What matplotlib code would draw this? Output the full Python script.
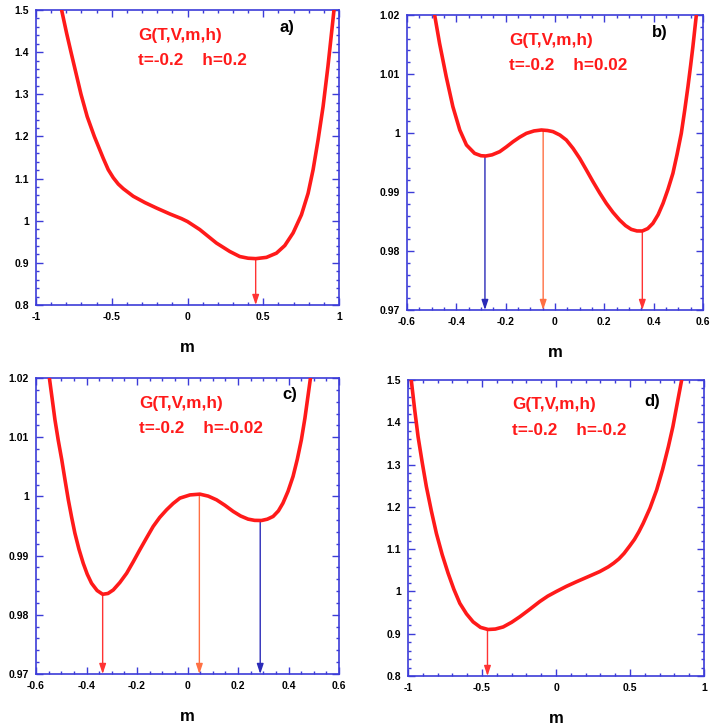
import matplotlib
matplotlib.use("Agg")
import matplotlib.pyplot as plt
from matplotlib.ticker import MultipleLocator

plt.rcParams['font.family'] = ['Liberation Sans', 'DejaVu Sans']

# ---------------- data ----------------
m_a = [-0.831, -0.798, -0.769, -0.736, -0.703, -0.662, -0.615, -0.556, -0.523, -0.490, -0.457, -0.424,
       -0.391, -0.358, -0.281, -0.204, -0.116, -0.040, 0.0, 0.081, 0.191, 0.279, 0.345, 0.400, 0.451,
       0.521, 0.587, 0.642, 0.697, 0.752, 0.796, 0.829, 0.862, 0.895, 0.927, 0.967]
g_a = [1.5, 1.445, 1.4, 1.350, 1.3, 1.247, 1.2, 1.148, 1.121, 1.102, 1.087, 1.076,
       1.067, 1.058, 1.043, 1.030, 1.016, 1.005, 0.998, 0.979, 0.947, 0.927, 0.915, 0.911, 0.910,
       0.913, 0.923, 0.941, 0.971, 1.014, 1.065, 1.121, 1.192, 1.271, 1.366, 1.5]

m_b = [-0.488, -0.468, -0.441, -0.414, -0.386, -0.359, -0.326, -0.300, -0.281, -0.255, -0.224, -0.197, -0.170,
       -0.143, -0.116, -0.085, -0.055, -0.030, -0.008, 0.020, 0.046, 0.073, 0.100, 0.127, 0.154, 0.181, 0.208,
       0.235, 0.262, 0.286, 0.309, 0.332, 0.354, 0.376, 0.397, 0.418, 0.438, 0.458, 0.478, 0.495, 0.512,
       0.526, 0.539, 0.550, 0.559, 0.573]
g_b = [1.02, 1.0152, 1.00955, 1.00446, 1.0005, 0.99797, 0.99655, 0.99615, 0.99610, 0.99630, 0.99684, 0.99765,
       0.99853, 0.99930, 0.99994, 1.00035, 1.00051, 1.00042, 1.00023, 0.99965, 0.99881, 0.99740, 0.99571,
       0.99375, 0.99175, 0.98985, 0.98808, 0.98655, 0.98525, 0.98430, 0.98367, 0.98340, 0.98339, 0.98380,
       0.98469, 0.98615, 0.98808, 0.99045, 0.99316, 0.99640, 0.99994, 1.0039, 1.00785, 1.0115, 1.01463, 1.02]

m_c = [-0.547, -0.536, -0.525, -0.512, -0.498, -0.485, -0.472, -0.459, -0.446, -0.430, -0.413, -0.397,
       -0.380, -0.358, -0.336, -0.315, -0.294, -0.268, -0.241, -0.215, -0.189, -0.162, -0.136, -0.110, -0.083,
       -0.057, -0.030, 0.010, 0.049, 0.082, 0.115, 0.148, 0.181, 0.210, 0.240, 0.266, 0.293, 0.316, 0.339,
       0.360, 0.378, 0.398, 0.418, 0.435, 0.451, 0.465, 0.477, 0.487]
g_c = [1.02, 1.0165, 1.01295, 1.0095, 1.00619, 1.00275, 0.99942, 0.99650, 0.99379, 0.99110, 0.98871, 0.98685,
       0.98533, 0.98410, 0.98347, 0.98360, 0.98420, 0.98545, 0.98702, 0.98895, 0.99097, 0.99300, 0.99492,
       0.99645, 0.99773, 0.99880, 0.99971, 1.00025, 1.00038, 1.00005, 0.99942, 0.99850, 0.99746, 0.99670,
       0.99616, 0.99595, 0.99593, 0.99615, 0.99661, 0.99755, 0.99886, 1.00085, 1.00337, 1.0063, 1.00957,
       1.0132, 1.0169, 1.02]

m_d = [-0.978, -0.955, -0.932, -0.904, -0.876, -0.842, -0.808, -0.769, -0.729, -0.690, -0.650, -0.605, -0.560,
       -0.510, -0.459, -0.410, -0.357, -0.300, -0.245, -0.180, -0.110, -0.055, 0.003, 0.070, 0.139, 0.218,
       0.296, 0.353, 0.390, 0.425, 0.460, 0.499, 0.530, 0.560, 0.589, 0.635, 0.680, 0.720, 0.759, 0.790,
       0.815, 0.849]
g_d = [1.5, 1.43, 1.366, 1.305, 1.248, 1.19, 1.137, 1.087, 1.043, 1.005, 0.972, 0.947, 0.928,
       0.915, 0.910, 0.911, 0.916, 0.927, 0.940, 0.957, 0.976, 0.989, 1.0, 1.012, 1.023, 1.035,
       1.047, 1.058, 1.067, 1.077, 1.090, 1.108, 1.123, 1.141, 1.161, 1.197, 1.240, 1.288, 1.342, 1.390,
       1.437, 1.5]

# stationary points marked by arrows: (m, G, colour key)
arrows_a = [(0.45, 0.910, 'min')]
arrows_b = [(-0.284, 0.99610, 'meta'), (-0.048, 1.00051, 'max'), (0.354, 0.98339, 'min')]
arrows_c = [(-0.336, 0.98347, 'min'), (0.047, 1.00038, 'max'), (0.288, 0.99593, 'meta')]
arrows_d = [(-0.463, 0.910, 'min')]

labels = ['a)', 'b)', 'c)', 'd)']
params = ['t=-0.2    h=0.2', 't=-0.2    h=0.02', 't=-0.2    h=-0.02', 't=-0.2    h=-0.2']

# ---------------- style ----------------
RED = '#ff1a1a'
ARROW_COL = {'min': '#ff3333', 'max': '#ff7043', 'meta': '#2b2bb8'}
SPINE = '#3c3cd8'

fig = plt.figure(figsize=(7.13, 7.26), dpi=100)
W, H = 713, 726

def make_ax(l, r, t, b):
    return fig.add_axes([l / W, 1 - b / H, (r - l) / W, (b - t) / H])

axes = [make_ax(36, 339, 10, 305), make_ax(407, 703, 15, 310),
        make_ax(36, 339, 378, 674), make_ax(408, 704, 380, 676)]

datasets = [(m_a, g_a, arrows_a), (m_b, g_b, arrows_b), (m_c, g_c, arrows_c), (m_d, g_d, arrows_d)]
xlims = [(-1, 1), (-0.6, 0.6), (-0.6, 0.6), (-1, 1)]
ylims = [(0.8, 1.5), (0.97, 1.02), (0.97, 1.02), (0.8, 1.5)]
xmaj = [0.5, 0.2, 0.2, 0.5]
xmin_ = [0.1, 0.05, 0.05, 0.1]
ymaj = [0.1, 0.01, 0.01, 0.1]
ymin_ = [0.02, 0.002, 0.002, 0.02]
txt_pos = [(0.337, 0.915, 0.83, 0.828, 0.94),
           (0.345, 0.915, 0.83, 0.855, 0.942),
           (0.34, 0.915, 0.831, 0.838, 0.943),
           (0.351, 0.916, 0.831, 0.824, 0.926)]

def fmt(v, pos):
    s = ('%.3f' % v).rstrip('0').rstrip('.')
    if s == '-0':
        s = '0'
    return s

for i, ax in enumerate(axes):
    m, g, arr = datasets[i]
    ax.plot(m, g, color=RED, lw=2.6, solid_capstyle='round', solid_joinstyle='round', zorder=3)
    ax.set_xlim(*xlims[i])
    ax.set_ylim(*ylims[i])
    for (xa, ya, key) in arr:
        ax.annotate('', xy=(xa, ylims[i][0]), xytext=(xa, ya),
                    arrowprops=dict(arrowstyle='-|>,head_length=0.6,head_width=0.2',
                                    color=ARROW_COL[key], lw=1.0, shrinkA=0, shrinkB=0),
                    zorder=2)
    ax.xaxis.set_major_locator(MultipleLocator(xmaj[i]))
    ax.xaxis.set_minor_locator(MultipleLocator(xmin_[i]))
    ax.yaxis.set_major_locator(MultipleLocator(ymaj[i]))
    ax.yaxis.set_minor_locator(MultipleLocator(ymin_[i]))
    ax.xaxis.set_major_formatter(plt.FuncFormatter(fmt))
    ax.yaxis.set_major_formatter(plt.FuncFormatter(fmt))
    ax.tick_params(which='both', direction='in', top=True, right=True, color=SPINE, width=1.0)
    ax.tick_params(which='major', length=5, labelsize=7.5, pad=5)
    ax.tick_params(which='minor', length=2.5)
    for lab in ax.get_xticklabels() + ax.get_yticklabels():
        lab.set_fontweight('bold')
    for sp in ax.spines.values():
        sp.set_color(SPINE)
        sp.set_linewidth(1.2)
    ax.set_xlabel('m', fontsize=12, fontweight='bold', labelpad=13)
    tx, ty1, ty2, lx, ly = txt_pos[i]
    ax.text(tx, ty1, 'G(T,V,m,h)', transform=ax.transAxes, color=RED, fontsize=12.3,
            fontweight='bold', va='center', ha='left')
    ax.text(tx, ty2, params[i], transform=ax.transAxes, color=RED, fontsize=12.3,
            fontweight='bold', va='center', ha='left')
    ax.text(lx, ly, labels[i], transform=ax.transAxes, color='black', fontsize=12,
            fontweight='bold', va='center', ha='center')

fig.savefig('out.png', dpi=100)
